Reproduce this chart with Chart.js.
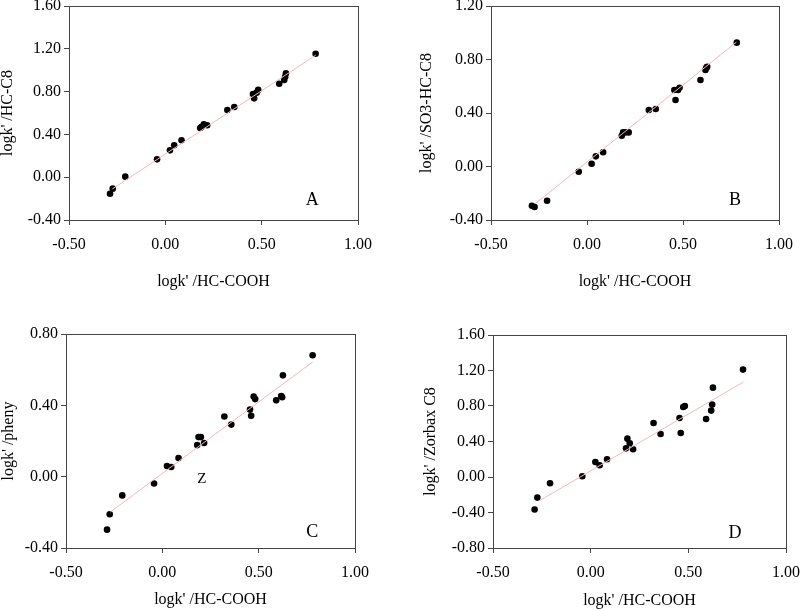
<!DOCTYPE html>
<html>
<head>
<meta charset="utf-8">
<script src="https://cdn.jsdelivr.net/npm/chart.js@4.4.1/dist/chart.umd.min.js"></script>
<style>
  body { margin: 0; background: #fff; }
  #wrap { position: relative; width: 800px; height: 610px; overflow: hidden; }
  .panel { position: absolute; }
</style>
</head>
<body>
<div id="wrap">
  <div class="panel" style="left:0px;top:0px;width:400px;height:300px"><canvas id="chartA"></canvas></div>
  <div class="panel" style="left:400px;top:0px;width:400px;height:300px"><canvas id="chartB"></canvas></div>
  <div class="panel" style="left:0px;top:300px;width:400px;height:310px"><canvas id="chartC"></canvas></div>
  <div class="panel" style="left:400px;top:300px;width:400px;height:310px"><canvas id="chartD"></canvas></div>
</div>
<script>
// logk' on HC-COOH (shared x for all four panels)
const xHCCOOH = [-0.287, -0.273, -0.208, -0.043, 0.024, 0.046, 0.084, 0.181, 0.188, 0.200, 0.217,
                 0.322, 0.358, 0.455, 0.461, 0.474, 0.482, 0.591, 0.617, 0.622, 0.626, 0.780];

// logk' on the other columns
const yHCC8   = [-0.154, -0.107, 0.005, 0.167, 0.251, 0.298, 0.345, 0.460, 0.470, 0.494, 0.485,
                 0.628, 0.656, 0.778, 0.737, 0.790, 0.816, 0.874, 0.908, 0.939, 0.971, 1.154];
const ySO3    = [-0.293, -0.303, -0.256, -0.039, 0.021, 0.076, 0.106, 0.230, 0.255, 0.255, 0.255,
                 0.422, 0.430, 0.572, 0.497, 0.572, 0.589, 0.647, 0.722, 0.739, 0.745, 0.926];
const yPheny  = [-0.297, -0.211, -0.105, -0.038, 0.060, 0.054, 0.105, 0.177, 0.222, 0.222, 0.189,
                 0.337, 0.292, 0.376, 0.342, 0.449, 0.435, 0.428, 0.452, 0.445, 0.568, 0.681];
const yZorbax = [-0.367, -0.232, -0.071, 0.008, 0.169, 0.132, 0.200, 0.323, 0.432, 0.380, 0.312,
                 0.608, 0.485, 0.665, 0.496, 0.789, 0.800, 0.654, 0.748, 0.816, 1.007, 1.210];

// fitted lines: [x0, y0, x1, y1]
const fitA = [-0.275, -0.110, 0.780, 1.140];
const fitB = [-0.271, -0.280, 0.778, 0.930];
const fitC = [-0.270, -0.198, 0.780, 0.643];
const fitD = [-0.259, -0.263, 0.782, 1.070];

// axis ranges [min, max, step]
const xRange = [-0.5, 1.0, 0.5];
const yRangeA = [-0.4, 1.6, 0.4];
const yRangeB = [-0.4, 1.2, 0.4];
const yRangeC = [-0.4, 0.8, 0.4];
const yRangeD = [-0.8, 1.6, 0.4];

const xTitle = "logk' /HC-COOH";
const yTitles = ["logk' /HC-C8", "logk' /SO3-HC-C8", "logk' /pheny", "logk' /Zorbax C8"];

// panel letters [text, x, y, size]
const notesA = [["A", 0.763, -0.213, 18]];
const notesB = [["B", 0.771, -0.250, 18]];
const notesC = [["C", 0.778, -0.310, 18], ["Z", 0.205, -0.011, 15]];
const notesD = [["D", 0.739, -0.638, 18]];

const FONT = "'Liberation Serif', 'Times New Roman', serif";
const AXIS_COLOR = '#444';

function toPoints(xs, ys) {
    var pts = new Array();
    for (var i = 0; i < xs.length; i++) {
        pts.push({x: xs[i], y: ys[i]});
    }
    return pts;
}

const boxPlugin = {
    id: 'boxAndNotes',
    afterDraw(chart, args, opts) {
        const ctx = chart.ctx;
        const a = chart.chartArea;
        ctx.save();
        ctx.strokeStyle = AXIS_COLOR;
        ctx.lineWidth = 1;
        ctx.strokeRect(Math.round(a.left) + 0.5, Math.round(a.top) + 0.5,
                       Math.round(a.right - a.left), Math.round(a.bottom - a.top));
        ctx.fillStyle = '#000';
        ctx.textAlign = 'center';
        ctx.textBaseline = 'middle';
        (opts.notes || []).forEach(function (n) {
            ctx.font = n[3] + 'px ' + FONT;
            ctx.fillText(n[0], chart.scales.x.getPixelForValue(n[1]), chart.scales.y.getPixelForValue(n[2]));
        });
        ctx.restore();
    }
};

// box = [left, top, right, bottom] of the plot area inside the canvas
// gap = [x title padding, y title padding]
function makePanel(id, ys, fit, yRange, yTitle, notes, box, w, h, gap) {
    return new Chart(document.getElementById(id), {
        data: {
            datasets: [{
                type: 'line',
                data: [{x: fit[0], y: fit[1]}, {x: fit[2], y: fit[3]}],
                borderColor: '#f2b8c0',
                borderWidth: 1,
                pointRadius: 0,
                fill: false
            }, {
                type: 'scatter',
                data: toPoints(xHCCOOH, ys),
                backgroundColor: '#000',
                borderColor: '#000',
                pointRadius: 3.3,
                borderWidth: 0
            }]
        },
        options: {
            responsive: true,
            maintainAspectRatio: false,
            animation: false,
            events: [],
            layout: { padding: { left: 0, top: box[1], right: w - box[2], bottom: 0 } },
            plugins: { legend: { display: false }, tooltip: { enabled: false }, boxAndNotes: { notes: notes } },
            scales: {
                x: {
                    type: 'linear',
                    min: xRange[0], max: xRange[1],
                    afterFit: function (s) { s.height = h - box[3]; s.paddingLeft = 0; s.paddingRight = 0; },
                    ticks: {
                        stepSize: xRange[2], padding: 10, color: '#000',
                        font: { family: FONT, size: 16 },
                        callback: function (v) { return v.toFixed(2); }
                    },
                    grid: { drawOnChartArea: false, tickLength: 5, color: AXIS_COLOR },
                    border: { color: AXIS_COLOR },
                    title: { display: true, text: xTitle, color: '#000', font: { family: FONT, size: 16, lineHeight: 1 },
                             padding: { top: gap[0], bottom: gap[0] } }
                },
                y: {
                    type: 'linear',
                    min: yRange[0], max: yRange[1],
                    afterFit: function (s) { s.width = box[0]; s.paddingTop = 0; s.paddingBottom = 0; },
                    ticks: {
                        stepSize: yRange[2], padding: 3, color: '#000',
                        font: { family: FONT, size: 16 },
                        callback: function (v) { return v.toFixed(2); }
                    },
                    grid: { drawOnChartArea: false, tickLength: 5, color: AXIS_COLOR },
                    border: { color: AXIS_COLOR },
                    title: { display: true, text: yTitle, color: '#000', font: { family: FONT, size: 16, lineHeight: 1 },
                             padding: { top: gap[1], bottom: gap[1] } }
                }
            }
        },
        plugins: [boxPlugin]
    });
}

makePanel('chartA', yHCC8, fitA, yRangeA, yTitles[0], notesA, [69, 6, 358, 220], 400, 300, [10, 0]);
makePanel('chartB', ySO3, fitB, yRangeB, yTitles[1], notesB, [91, 6, 379, 220], 400, 300, [10, 19]);
makePanel('chartC', yPheny, fitC, yRangeC, yTitles[2], notesC, [66, 34, 355, 248], 400, 310, [2, 1]);
makePanel('chartD', yZorbax, fitD, yRangeD, yTitles[3], notesD, [93, 35, 386, 248], 400, 310, [1, 23]);
</script>
</body>
</html>
